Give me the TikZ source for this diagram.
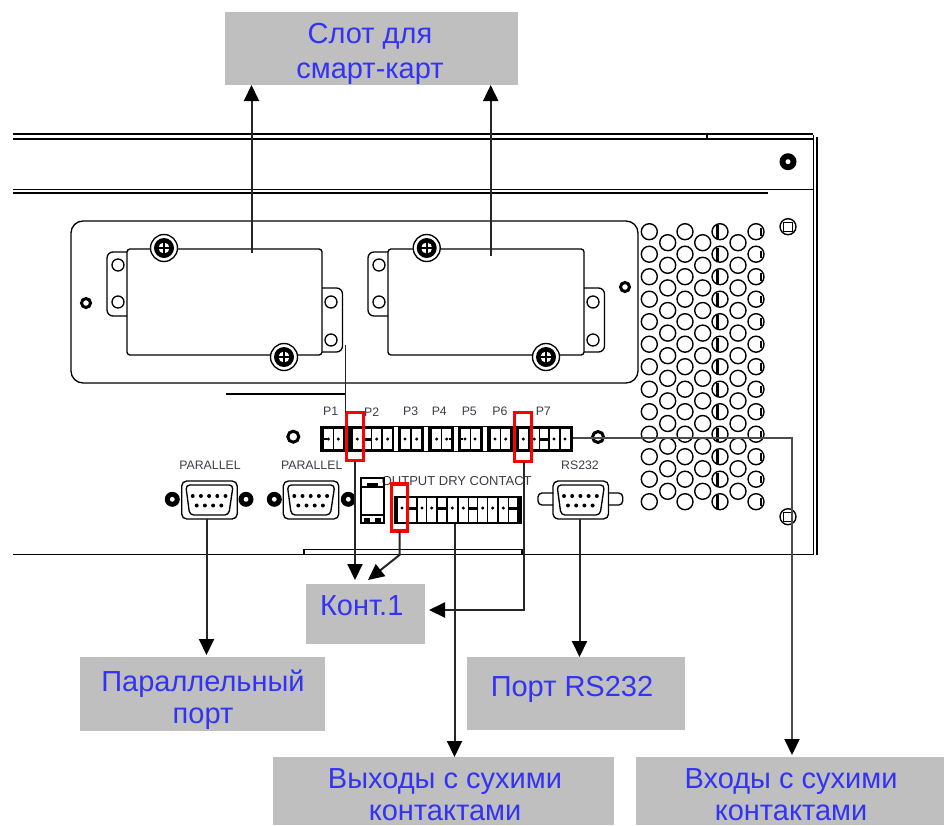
\documentclass[tikz,border=0pt]{standalone}
\usepackage{fontspec}
\setmainfont{Liberation Sans}
\usetikzlibrary{arrows.meta}
\definecolor{greyfill}{HTML}{BFBFBF}
\definecolor{bluetext}{HTML}{3333F5}
\definecolor{smalltext}{HTML}{3C3C48}
\tikzset{
  greybox/.style={fill=greyfill,draw=none,inner sep=0pt,outer sep=0pt},
  biglabel/.style={text=bluetext,font=\fontsize{29}{34}\selectfont,anchor=base,inner sep=0pt},
  smalllabel/.style={text=smalltext,font=\fontsize{12.3}{13}\selectfont,inner sep=0pt},
  part/.style={line width=1.35pt,draw=black},
  thick part/.style={line width=1.8pt,draw=black},
  wire/.style={line width=2pt,draw=black!85},
  arrowwire/.style={wire,-{Triangle[length=16pt,width=15pt,black]}},
  redbox/.style={draw=red,line width=3.4pt,inner sep=0pt,outer sep=0pt,fill=none},
  band/.style={fill=black,draw=none,inner sep=0pt,outer sep=0pt}
}
% screw with cross head
\newcommand{\crossscrew}[2]{
  \fill[white] (#1,#2) circle (14pt);
  \draw[part] (#1,#2) circle (13.5pt);
  \fill[black] (#1,#2) circle (10pt);
  \fill[white] (#1,#2) circle (5.5pt);
  \draw[line width=2pt] (#1-7,#2) -- (#1+7,#2) (#1,#2-7) -- (#1,#2+7);
}
% card with two ears
\newcommand{\cardshape}[2]{% left x, right x
  \draw[part,rounded corners=3pt] (#1,249) rectangle (#2,355);
  \draw[part,rounded corners=6pt] (#1,252) -- (#1-20,252) -- (#1-20,316) -- (#1,316);
  \draw[part,rounded corners=6pt] (#2,288) -- (#2+20.5,288) -- (#2+20.5,352) -- (#2,352);
  \draw[part,fill=white] (#1-9,265) circle (6pt) (#1-9,302) circle (6pt);
  \draw[part,fill=white] (#2+9,302) circle (6pt) (#2+9,340) circle (6pt);
}
% D-sub connector
\newcommand{\dsub}[1]{% left x of body
  \draw[part,rounded corners=5pt] (#1,481) rectangle (#1+55.5,519);
  \draw[part,rounded corners=4pt] (#1+4,485) -- (#1+51.5,485) -- (#1+47,515) -- (#1+8,515) -- cycle;
  \foreach \k in {0,1,2,3,4} \fill (#1+11+8.2*\k,496) circle (2pt);
  \foreach \k in {0,1,2,3} \fill (#1+15+8.2*\k,505.5) circle (2pt);
}
\newcommand{\lockscrew}[2]{
  \fill[black] (#1,#2) circle (7.5pt);
  \fill[white] (#1,#2) circle (2.4pt);
}
\begin{document}
\begin{tikzpicture}[x=1pt,y=-1pt]
\useasboundingbox (0,0) rectangle (944,825);

% ---- grey label boxes
\node[greybox,minimum width=292.7pt,minimum height=73pt] (slot) at (371.65,48.5) {};
\node[greybox,minimum width=119pt,minimum height=60pt] (cont) at (365.5,614) {};
\node[greybox,minimum width=245pt,minimum height=73.5pt] (par) at (202.5,694) {};
\node[greybox,minimum width=218.4pt,minimum height=73pt] (rsb) at (575.8,693.5) {};
\node[greybox,minimum width=341pt,minimum height=68pt] (outb) at (443.5,791) {};
\node[greybox,minimum width=308pt,minimum height=68pt] (inb) at (790,791) {};

\node[biglabel] (slot1) at (370,43.3) {Слот для};
\node[biglabel] (slot2) at (370,78) {смарт-карт};
\node[biglabel] (contl) at (361.7,615) {Конт.1};
\node[biglabel] (par1) at (203,691.7) {Параллельный};
\node[biglabel] (par2) at (203,723.5) {порт};
\node[biglabel] (rsl) at (572,696) {Порт RS232};
\node[biglabel] (out1) at (445,788) {Выходы с сухими};
\node[biglabel] (out2) at (445,820.5) {контактами};
\node[biglabel] (in1) at (791,788) {Входы с сухими};
\node[biglabel] (in2) at (791,820.5) {контактами};

% ---- chassis
\draw[thick part] (13,134) -- (812.5,134) (13,139) -- (812.5,139);
\draw[thick part] (13,189.5) -- (812.5,189.5) (13,193) -- (768,193);
\draw[part] (707,134) -- (707,139);
\draw[thick part] (813.5,135) -- (813.5,555) (817,137) -- (817,555);
\draw[thick part] (13,554.5) -- (813.5,554.5);
\draw[thick part] (304,554.5) -- (304,549.5) -- (521.7,549.5) -- (521.7,554.5);
\draw[part,rounded corners=12pt] (71,221) rectangle (638,383);
\draw[part] (225.7,394) -- (345.5,394);

% ---- smart-card covers
\cardshape{127}{322}
\cardshape{388}{584}
\crossscrew{164}{248}
\crossscrew{284}{357}
\crossscrew{426.7}{248}
\crossscrew{546}{357}
\draw[line width=3pt] (86,303) circle (4.5pt);
\draw[line width=3pt] (625,287) circle (4.5pt);

% ---- ventilation holes
\foreach \x in {649.3,685,720,756}
  \foreach \k in {0,...,12}
    \draw[line width=1.4pt] (\x,231.7+22.5*\k) circle (8pt);
\foreach \x in {667.7,702.7,738}
  \foreach \k in {0,...,11}
    \draw[line width=1.4pt] (\x,242.7+22.6*\k) circle (8pt);
\foreach \k in {0,...,12} {
  \draw[line width=2.2pt] (717.5,225+22.5*\k) -- (717.5,238.5+22.5*\k);
  \draw[line width=1.4pt] (761,228+22.5*\k) -- (761,235.5+22.5*\k);
}

% ---- right-hand screws
\fill (788,161.7) circle (8.5pt);
\fill[white] (788,161.7) circle (2.5pt);
\draw[line width=1.4pt] (788,226.7) circle (8pt);
\draw[line width=1.2pt] (783.5,222.2) rectangle (792.5,231.2);
\draw[line width=1.4pt] (788,516.7) circle (8pt);
\draw[line width=1.2pt] (783.5,512.2) rectangle (792.5,521.2);

% ---- input terminal block
\node[band,minimum width=253.3pt,minimum height=25.7pt] (pband) at (446.65,438.85) {};
\foreach \x in {328.3,338.3,357.3,376.7,387.7,405,416.7,436.7,446.7,465,475,495,505.7,523.3,534.3,554,565} {
  \fill[white] (\x-4.5,429) rectangle (\x+4.5,449);
  \fill[black] (\x,439) circle (1.7pt);
}
\foreach \x in {367,544} {
  \fill[white] (\x-4,429) rectangle (\x+4,449);
  \draw[line width=3pt] (\x-4,439) -- (\x+4,439);
}
\foreach \x in {396,426,456,485}
  \fill[white] (\x-2,427) rectangle (\x+2,451);
\draw[line width=2.4pt] (324,439) -- (327,439) (449,439) -- (451,439) (461,439) -- (463,439);
\draw[line width=3pt] (293.3,436.7) circle (5.5pt);
\draw[line width=3pt] (598,437) circle (5.5pt);

% ---- labels on the panel
\foreach \x/\t in {330.7/P1,371.7/P2,410.7/P3,439.3/P4,469.3/P5,500/P6,543.3/P7}
  \node[smalllabel] at (\x,411.7) {\t};
\node[smalllabel] (pl1) at (210,465) {PARALLEL};
\node[smalllabel] (pl2) at (311.7,465) {PARALLEL};
\node[smalllabel] (rsl2) at (580,465) {RS232};
\node[smalllabel,font=\fontsize{13}{14}\selectfont] (odc) at (456.7,480.7) {OUTPUT DRY CONTACT};

% ---- parallel ports
\dsub{181.7}
\lockscrew{172.3}{499.3}
\lockscrew{246}{499.3}
\dsub{283.3}
\lockscrew{274.3}{499.3}
\lockscrew{348.3}{499.3}

% ---- RS232 port
\draw[part,rounded corners=4pt] (553.3,493) -- (538,493) -- (538,505) -- (553.3,505);
\draw[part,rounded corners=4pt] (608,493) -- (622.7,493) -- (622.7,505) -- (608,505);
\dsub{553}

% ---- breaker
\draw[line width=1.8pt] (361,477.7) rectangle (384,523.3);
\draw[part] (362,487) -- (383,487) (362,515) -- (383,515);
\fill (367,483) rectangle (378,487);
\fill (364,518) rectangle (370,522);
\fill (375,518) rectangle (381,522);

% ---- output terminal block
\node[band,minimum width=127.7pt,minimum height=28.6pt] (oband) at (457.85,510) {};
\foreach \x in {402,422,431.7,452.3,463.3,482.7,492.7,503.3} {
  \fill[white] (\x-4.4,498) rectangle (\x+4.4,521.5);
  \fill[black] (\x,508) circle (1.7pt);
}
\foreach \x in {411.7,441.7,472.7,512.7} {
  \fill[white] (\x-4,498) rectangle (\x+4,521.5);
  \draw[line width=3pt] (\x-4,508) -- (\x+4,508);
}

% ---- red frames
\node[redbox,minimum width=17pt,minimum height=48pt] (red1) at (355,436.5) {};
\node[redbox,minimum width=17pt,minimum height=49pt] (red2) at (523,437) {};
\node[redbox,minimum width=16pt,minimum height=47pt] (red3) at (399.5,507.5) {};

% ---- free ends of connectors
\coordinate (cardA) at (251.5,253);
\coordinate (cardB) at (490.7,256);
\coordinate (ear) at (345.5,345);
\coordinate (tipA) at (355,580);
\coordinate (bendB) at (399.5,555);
\coordinate (tipB) at (368,580);
\coordinate (bendC) at (524,610);
\coordinate (tipC) at (429,610);
\coordinate (parTop) at (206.5,519);
\coordinate (rsTop) at (579.5,519);
\coordinate (outTop) at (454.5,524);
\coordinate (inStart) at (573.3,438);
\coordinate (inBend) at (792,438);

% ---- connectors
\draw[arrowwire] (cardA) -- (cardA |- slot.south);
\draw[arrowwire] (cardB) -- (cardB |- slot.south);
\draw[wire,line width=1.5pt] (ear) -- (ear |- red1.north);
\draw[arrowwire] (red1.south) -- (tipA);
\draw[arrowwire] (red3.south) -- (bendB) -- (tipB);
\draw[arrowwire] (red2.south -| bendC) -- (bendC) -- (tipC);
\draw[arrowwire] (parTop) -- ++(0,136);
\draw[arrowwire] (rsTop) -- (rsTop |- rsb.north);
\draw[arrowwire] (outTop) -- (outTop |- outb.north);
\draw[arrowwire,draw=black!70] (inStart) -- (inBend) -- ++(0,317);
\end{tikzpicture}
\end{document}
